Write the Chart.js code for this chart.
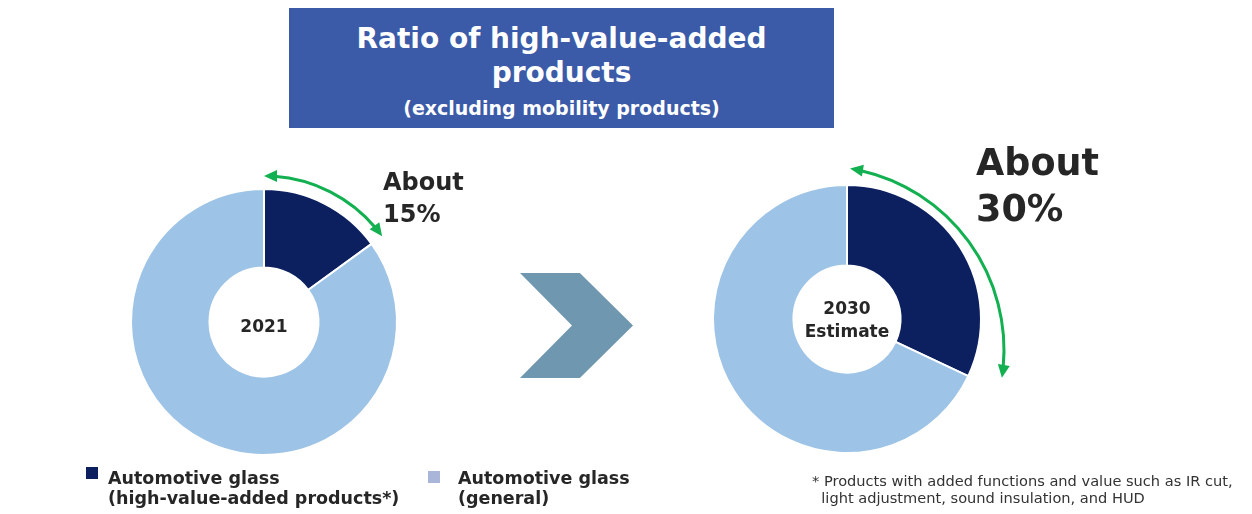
<!DOCTYPE html>
<html>
<head>
<meta charset="utf-8">
<script src="https://cdn.jsdelivr.net/npm/chart.js@4.4.1/dist/chart.umd.min.js"></script>
<style>
  html, body { margin: 0; padding: 0; background: #fff; }
  body { width: 1252px; height: 514px; position: relative; overflow: hidden;
         font-family: "DejaVu Sans", Verdana, sans-serif; color: #262626; }
  .abs { position: absolute; }
  #titleBox { left: 289px; top: 8px; width: 545px; height: 120px; background: #3b5aa8;
              color: #fff; font-weight: bold; text-align: center; }
  #titleBox .t1 { position: absolute; left: 0; right: 0; top: 14px; font-size: 28px; line-height: 34px; }
  #titleBox .t2 { position: absolute; left: 0; right: 0; top: 88px; font-size: 19px; line-height: 24px; }
  .big { font-weight: bold; }
  .center { font-weight: bold; font-size: 17px; text-align: center; line-height: 23px; }
  .chevron { left: 520px; top: 273px; width: 113px; height: 105px; background: #7097b0;
             clip-path: polygon(0 0, 53% 0, 100% 50%, 53% 100%, 0 100%, 46% 50%); }
  .legend { font-weight: bold; font-size: 17.5px; line-height: 20px; }
  .sq { width: 12px; height: 12px; }
  .note { font-size: 14.6px; line-height: 17px; color: #333; }
</style>
</head>
<body>
<div id="titleBox" class="abs">
  <div class="t1">Ratio of high-value-added<br>products</div>
  <div class="t2">(excluding mobility products)</div>
</div>

<canvas id="chart2021" class="abs" style="left:114px;top:160px;width:300px;height:310px"></canvas>
<canvas id="chart2030" class="abs" style="left:700px;top:150px;width:320px;height:320px"></canvas>

<div class="abs center" style="left:204px;top:315px;width:120px">2021</div>
<div class="abs center" style="left:787px;top:297px;width:120px">2030<br>Estimate</div>

<div class="abs big" style="left:383px;top:166px;font-size:24px;line-height:32px">About<br>15%</div>
<div class="abs big" style="left:976px;top:140px;font-size:36.5px;line-height:46px">About<br>30%</div>

<div class="abs chevron"></div>

<div class="abs sq" style="left:86px;top:467px;background:#0c2060"></div>
<div class="abs legend" style="left:108px;top:468px">Automotive glass<br>(high-value-added products*)</div>
<div class="abs sq" style="left:428px;top:471px;background:#a9b6da"></div>
<div class="abs legend" style="left:458px;top:468px">Automotive glass<br>(general)</div>

<div class="abs note" style="left:812px;top:472px">* Products with added functions and value such as IR cut,<br>&nbsp;&nbsp;light adjustment, sound insulation, and HUD</div>

<script>
// data
const categories = ['Automotive glass (high-value-added products*)', 'Automotive glass (general)'];
const share2021 = [15, 85];
const share2030 = [32, 68];
const sliceColors = ['#0c2060', '#9dc3e6'];

// green curved double arrow around the high-value slice
const arcArrow = {
  id: 'arcArrow',
  afterDraw(chart, args, opts) {
    const arc = chart.getDatasetMeta(0).data[0];
    const ctx = chart.ctx;
    const cx = arc.x + (opts.dx || 0);
    const cy = arc.y + (opts.dy || 0);
    const r = opts.r || (arc.outerRadius + opts.gap);
    const a0 = opts.from !== undefined ? opts.from * Math.PI / 180 : arc.startAngle;
    const a1 = opts.to !== undefined ? opts.to * Math.PI / 180 : arc.endAngle;
    const head = 13, half = 6;
    const d = head / r;
    ctx.save();
    ctx.strokeStyle = '#12b050';
    ctx.fillStyle = '#12b050';
    ctx.lineWidth = 3;
    ctx.beginPath();
    ctx.arc(cx, cy, r, a0 + d * 0.8, a1 - d * 0.8);
    ctx.stroke();
    function tip(a, dir) {
      const px = cx + r * Math.cos(a), py = cy + r * Math.sin(a);
      // tangent direction pointing out of the arc
      const tx = -Math.sin(a) * dir, ty = Math.cos(a) * dir;
      const nx = Math.cos(a), ny = Math.sin(a);
      const bx = px - tx * head, by = py - ty * head;
      ctx.beginPath();
      ctx.moveTo(px, py);
      ctx.lineTo(bx + nx * half, by + ny * half);
      ctx.lineTo(bx - nx * half, by - ny * half);
      ctx.closePath();
      ctx.fill();
    }
    tip(a0, -1);
    tip(a1, 1);
    ctx.restore();
  }
};

function makeDoughnut(id, values, cutout, padding, arrow) {
  return new Chart(document.getElementById(id), {
    type: 'doughnut',
    data: {
      labels: categories,
      datasets: [{
        data: values,
        backgroundColor: sliceColors,
        borderColor: '#ffffff',
        borderWidth: 2
      }]
    },
    options: {
      responsive: false,
      animation: false,
      cutout: cutout,
      layout: { padding: padding },
      plugins: {
        legend: { display: false },
        tooltip: { enabled: false },
        arcArrow: arrow
      }
    },
    plugins: [arcArrow]
  });
}

makeDoughnut('chart2021', share2021, '41%',
  { left: 16, right: 16, top: 28, bottom: 14 },
  { gap: 13 });
makeDoughnut('chart2030', share2030, '40%',
  { left: 12, right: 38, top: 34, bottom: 16 },
  { dx: -27, dy: 31, r: 184, from: -80.6, to: 8.7 });
</script>
</body>
</html>
